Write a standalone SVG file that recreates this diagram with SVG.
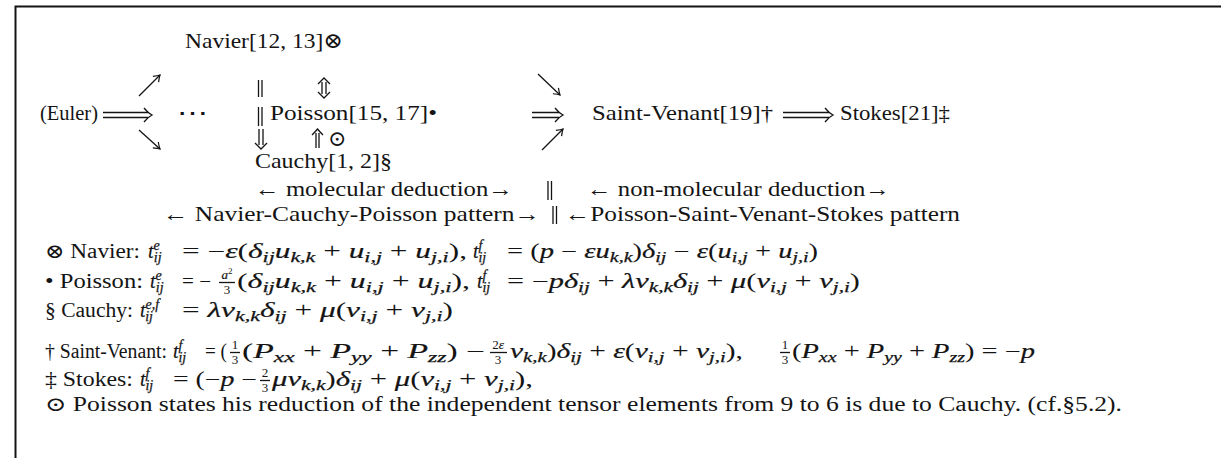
<svg xmlns="http://www.w3.org/2000/svg" width="1221" height="458" viewBox="0 0 1221 458">
<style>
text{font-family:"Liberation Serif","DejaVu Serif",serif;font-size:22px;fill:#141414}
.e{font-size:20px}
.m{font-style:italic;stroke:#141414;stroke-width:0.2}
.s{font-size:14px;font-style:italic;stroke:#141414;stroke-width:0.25}
.f{font-size:13px}
.ln{stroke:#141414;stroke-width:1.3;fill:none}
.frame{stroke:#141414;stroke-width:2;fill:none}
</style>
<defs>
<marker id="ah" viewBox="-8 -5 10 10" markerWidth="10" markerHeight="10" refX="0" refY="0" orient="auto" markerUnits="userSpaceOnUse">
<path d="M-6,-4 Q-2,-1 0,0 Q-2,1 -6,4" fill="none" stroke="#141414" stroke-width="1.2"/>
</marker>
</defs>
<path class="frame" d="M15.5,458 V6.5 H1221"/>

<g id="connectors">
<path class="ln" d="M139,96 L160,75" marker-end="url(#ah)"/>
<path class="ln" d="M139,130 L160,149" marker-end="url(#ah)"/>
<path class="ln" d="M538,74 L560,95" marker-end="url(#ah)"/>
<path class="ln" d="M542,150 L563,129" marker-end="url(#ah)"/>
<path class="ln" d="M103,112.5 H148 M103,117.5 H148 M144,108 Q148,113 152,115 Q148,117 144,122"/>
<path class="ln" d="M532,112.5 H559 M532,117.5 H559 M555,108 Q559,113 563,115 Q559,117 555,122"/>
<path class="ln" d="M783,112.5 H829 M783,117.5 H829 M825,108 Q829,113 833,115 Q829,117 825,122"/>
<path class="ln" d="M322,82 V94 M326,82 V94 M318,84 Q322,80 324,78 Q326,80 330,84 M318,92 Q322,96 324,98 Q326,96 330,92"/>
<path class="ln" d="M259,129 V145 M263,129 V145 M255,143 Q259,147 261,149 Q263,147 267,143"/>
<path class="ln" d="M316,133 V148 M319,133 V148 M312,135 Q316,131 317.5,129 Q319,131 323,135"/>
<path class="ln" d="M258.5,80 V97 M262,80 V97 M258.5,107 V126 M262,107 V126"/>
<path class="ln" d="M548,181 V200 M551.5,181 V200 M553,206 V224 M556.5,206 V224"/>
</g>

<g id="node-navier"><text x="185" y="48" textLength="158" lengthAdjust="spacingAndGlyphs">Navier[12, 13]⊗</text></g>
<g id="node-euler"><text x="40" y="120" textLength="58" lengthAdjust="spacingAndGlyphs">(Euler)</text></g>
<g id="node-dots"><text x="177" y="120" textLength="31" lengthAdjust="spacingAndGlyphs">⋯</text></g>
<g id="node-poisson"><text x="270" y="120" textLength="167" lengthAdjust="spacingAndGlyphs">Poisson[15, 17]•</text></g>
<g id="node-odot"><text x="328" y="146" font-size="20">⊙</text></g>
<g id="node-saintvenant"><text x="592" y="120" textLength="181" lengthAdjust="spacingAndGlyphs">Saint-Venant[19]†</text></g>
<g id="node-stokes"><text x="840" y="120" textLength="110" lengthAdjust="spacingAndGlyphs">Stokes[21]‡</text></g>
<g id="node-cauchy"><text x="255" y="168" textLength="137" lengthAdjust="spacingAndGlyphs">Cauchy[1, 2]§</text></g>
<g id="labels">
<text x="255" y="196" textLength="258" lengthAdjust="spacingAndGlyphs">← molecular deduction→</text>
<text x="587" y="196" textLength="303" lengthAdjust="spacingAndGlyphs">← non-molecular deduction→</text>
<text x="163" y="221" textLength="377" lengthAdjust="spacingAndGlyphs">← Navier-Cauchy-Poisson pattern→</text>
<text x="565" y="221" textLength="395" lengthAdjust="spacingAndGlyphs">←Poisson-Saint-Venant-Stokes pattern</text>
</g>

<g id="eq-navier">
<text class="e" x="45" y="258" textLength="95" lengthAdjust="spacingAndGlyphs">⊗ Navier:</text>
<text class="e" x="148" y="258"><tspan class="m">t</tspan><tspan class="s" dy="-8">e</tspan><tspan class="s" dx="-6" dy="12">ij</tspan></text>
<text class="e" x="182" y="258" textLength="285" lengthAdjust="spacingAndGlyphs">= −<tspan class="m">ε</tspan>(<tspan class="m">δ</tspan><tspan class="s" dy="4">ij</tspan><tspan class="m" dy="-4">u</tspan><tspan class="s" dy="4">k,k</tspan><tspan dy="-4"> + </tspan><tspan class="m">u</tspan><tspan class="s" dy="4">i,j</tspan><tspan dy="-4"> + </tspan><tspan class="m">u</tspan><tspan class="s" dy="4">j,i</tspan><tspan dy="-4">),</tspan></text>
<text class="e" x="473" y="258"><tspan class="m">t</tspan><tspan class="s" dy="-8">f</tspan><tspan class="s" dx="-4" dy="12">ij</tspan></text>
<text class="e" x="507" y="258" textLength="311" lengthAdjust="spacingAndGlyphs">= (<tspan class="m">p</tspan> − <tspan class="m">εu</tspan><tspan class="s" dy="4">k,k</tspan><tspan dy="-4">)</tspan><tspan class="m">δ</tspan><tspan class="s" dy="4">ij</tspan><tspan dy="-4"> − </tspan><tspan class="m">ε</tspan>(<tspan class="m">u</tspan><tspan class="s" dy="4">i,j</tspan><tspan dy="-4"> + </tspan><tspan class="m">u</tspan><tspan class="s" dy="4">j,i</tspan><tspan dy="-4">)</tspan></text>
</g>

<g id="eq-poisson">
<text class="e" x="45" y="288" textLength="98" lengthAdjust="spacingAndGlyphs">• Poisson:</text>
<text class="e" x="150" y="288"><tspan class="m">t</tspan><tspan class="s" dy="-8">e</tspan><tspan class="s" dx="-6" dy="12">ij</tspan></text>
<text class="e" x="182" y="288" textLength="29" lengthAdjust="spacingAndGlyphs">= −</text>
<text class="f" x="227" y="279" text-anchor="middle"><tspan class="m">a</tspan><tspan font-size="9" dy="-5">2</tspan></text>
<path class="ln" d="M219,282.5 H235"/>
<text class="f" x="227" y="294" text-anchor="middle">3</text>
<text class="e" x="237" y="288" textLength="233" lengthAdjust="spacingAndGlyphs">(<tspan class="m">δ</tspan><tspan class="s" dy="4">ij</tspan><tspan class="m" dy="-4">u</tspan><tspan class="s" dy="4">k,k</tspan><tspan dy="-4"> + </tspan><tspan class="m">u</tspan><tspan class="s" dy="4">i,j</tspan><tspan dy="-4"> + </tspan><tspan class="m">u</tspan><tspan class="s" dy="4">j,i</tspan><tspan dy="-4">),</tspan></text>
<text class="e" x="477" y="288"><tspan class="m">t</tspan><tspan class="s" dy="-8">f</tspan><tspan class="s" dx="-4" dy="12">ij</tspan></text>
<text class="e" x="507" y="288" textLength="353" lengthAdjust="spacingAndGlyphs">= −<tspan class="m">pδ</tspan><tspan class="s" dy="4">ij</tspan><tspan dy="-4"> + </tspan><tspan class="m">λv</tspan><tspan class="s" dy="4">k,k</tspan><tspan class="m" dy="-4">δ</tspan><tspan class="s" dy="4">ij</tspan><tspan dy="-4"> + </tspan><tspan class="m">μ</tspan>(<tspan class="m">v</tspan><tspan class="s" dy="4">i,j</tspan><tspan dy="-4"> + </tspan><tspan class="m">v</tspan><tspan class="s" dy="4">j,i</tspan><tspan dy="-4">)</tspan></text>
</g>

<g id="eq-cauchy">
<text class="e" x="45" y="317" textLength="88" lengthAdjust="spacingAndGlyphs">§ Cauchy:</text>
<text class="e" x="140" y="317"><tspan class="m">t</tspan><tspan class="s" dy="-8">e,f</tspan><tspan class="s" dx="-14" dy="12">ij</tspan></text>
<text class="e" x="182" y="317" textLength="271" lengthAdjust="spacingAndGlyphs">= <tspan class="m">λv</tspan><tspan class="s" dy="4">k,k</tspan><tspan class="m" dy="-4">δ</tspan><tspan class="s" dy="4">ij</tspan><tspan dy="-4"> + </tspan><tspan class="m">μ</tspan>(<tspan class="m">v</tspan><tspan class="s" dy="4">i,j</tspan><tspan dy="-4"> + </tspan><tspan class="m">v</tspan><tspan class="s" dy="4">j,i</tspan><tspan dy="-4">)</tspan></text>
</g>

<g id="eq-saintvenant">
<text class="e" x="45" y="358" textLength="122" lengthAdjust="spacingAndGlyphs">† Saint-Venant:</text>
<text class="e" x="173" y="358"><tspan class="m">t</tspan><tspan class="s" dy="-8">f</tspan><tspan class="s" dx="-4" dy="12">ij</tspan></text>
<text class="e" x="205" y="358" textLength="22" lengthAdjust="spacingAndGlyphs">= (</text>
<text class="f" x="235" y="349" text-anchor="middle">1</text>
<path class="ln" d="M230,352.5 H240"/>
<text class="f" x="235" y="364" text-anchor="middle">3</text>
<text class="e" x="242" y="358" textLength="243" lengthAdjust="spacingAndGlyphs">(<tspan class="m">P</tspan><tspan class="s" dy="4">xx</tspan><tspan dy="-4"> + </tspan><tspan class="m">P</tspan><tspan class="s" dy="4">yy</tspan><tspan dy="-4"> + </tspan><tspan class="m">P</tspan><tspan class="s" dy="4">zz</tspan><tspan dy="-4">) −</tspan></text>
<text class="f" x="498" y="349" text-anchor="middle">2<tspan class="m">ε</tspan></text>
<path class="ln" d="M490,352.5 H507"/>
<text class="f" x="498" y="364" text-anchor="middle">3</text>
<text class="e" x="510" y="358" textLength="233" lengthAdjust="spacingAndGlyphs"><tspan class="m">v</tspan><tspan class="s" dy="4">k,k</tspan><tspan dy="-4">)</tspan><tspan class="m">δ</tspan><tspan class="s" dy="4">ij</tspan><tspan dy="-4"> + </tspan><tspan class="m">ε</tspan>(<tspan class="m">v</tspan><tspan class="s" dy="4">i,j</tspan><tspan dy="-4"> + </tspan><tspan class="m">v</tspan><tspan class="s" dy="4">j,i</tspan><tspan dy="-4">),</tspan></text>
<text class="f" x="785" y="349" text-anchor="middle">1</text>
<path class="ln" d="M780,352.5 H790"/>
<text class="f" x="785" y="364" text-anchor="middle">3</text>
<text class="e" x="792" y="358" textLength="243" lengthAdjust="spacingAndGlyphs">(<tspan class="m">P</tspan><tspan class="s" dy="4">xx</tspan><tspan dy="-4"> + </tspan><tspan class="m">P</tspan><tspan class="s" dy="4">yy</tspan><tspan dy="-4"> + </tspan><tspan class="m">P</tspan><tspan class="s" dy="4">zz</tspan><tspan dy="-4">) = −</tspan><tspan class="m">p</tspan></text>
</g>

<g id="eq-stokes">
<text class="e" x="45" y="386" textLength="88" lengthAdjust="spacingAndGlyphs">‡ Stokes:</text>
<text class="e" x="140" y="386"><tspan class="m">t</tspan><tspan class="s" dy="-8">f</tspan><tspan class="s" dx="-4" dy="12">ij</tspan></text>
<text class="e" x="173" y="386" textLength="84" lengthAdjust="spacingAndGlyphs">= (−<tspan class="m">p</tspan> −</text>
<text class="f" x="265" y="377" text-anchor="middle">2</text>
<path class="ln" d="M260,380.5 H270"/>
<text class="f" x="265" y="392" text-anchor="middle">3</text>
<text class="e" x="272" y="386" textLength="261" lengthAdjust="spacingAndGlyphs"><tspan class="m">μv</tspan><tspan class="s" dy="4">k,k</tspan><tspan dy="-4">)</tspan><tspan class="m">δ</tspan><tspan class="s" dy="4">ij</tspan><tspan dy="-4"> + </tspan><tspan class="m">μ</tspan>(<tspan class="m">v</tspan><tspan class="s" dy="4">i,j</tspan><tspan dy="-4"> + </tspan><tspan class="m">v</tspan><tspan class="s" dy="4">j,i</tspan><tspan dy="-4">),</tspan></text>
</g>

<g id="note-odot">
<text class="e" x="45" y="411" textLength="1077" lengthAdjust="spacingAndGlyphs">⊙ Poisson states his reduction of the independent tensor elements from 9 to 6 is due to Cauchy. (cf.§5.2).</text>
</g>
</svg>
